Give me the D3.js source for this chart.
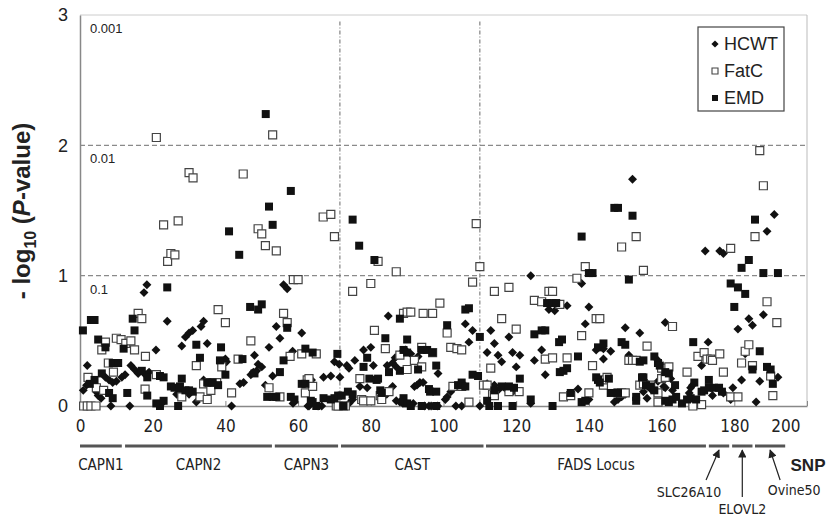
<!DOCTYPE html>
<html>
<head>
<meta charset="utf-8">
<script src="https://cdn.jsdelivr.net/npm/d3@7"></script>
<style>
  body { margin: 0; background: #fff; }
  svg { font-family: "Liberation Sans", Arial, sans-serif; }
  .narrow { font-family: "DejaVu Sans Condensed", "Liberation Sans Narrow", "Arial Narrow", sans-serif; font-stretch: condensed; }
</style>
</head>
<body>
<div id="chart"></div>
<script>
// DATA
// each point is [SNP index, -log10(P)]
var hcwt = [
  [0.9,0.12],[1.8,0.16],[2,0.31],[4.5,0.11],[5,0.08],[5.8,0.06],[7,0.22],[8,0.20],[8.5,0],[9,0.18],
  [10,0.19],[11.5,0.22],[12.4,0.24],[13.7,0],[14,0.31],[15,0.28],[16,0.25],[17.6,0.87],[18.4,0.93],[18,0.24],
  [19,0.26],[20.9,0.43],[22.5,0.02],[24,0.65],[26.6,0.09],[27.8,0.12],[28,0.46],[28.5,0.09],[29,0.53],[30,0.56],
  [30,0.09],[31,0.58],[32,0.03],[33.3,0.61],[34,0.65],[34,0.20],[35,0.48],[35.5,0.18],[37,0.16],[40,0.36],
  [40.3,0.34],[41.7,0],[44,0.17],[45,0.18],[47,0.24],[47.7,0.26],[48.6,0.27],[48,0.39],[49,0.32],[50,0.30],
  [51,0.16],[52,0.45],[53,0.23],[54,0.61],[55,0.52],[56,0.93],[57,0.90],[58.5,0.42],[58.6,0.02],[61,0.56],
  [62.7,0],[63,0],[63.7,0.20],[65.5,0],[66.5,0],[67,0.22],[69,0.23],[70,0.34],[71.3,0.32],[71.5,0.22],
  [73.4,0.31],[74,0.29],[74,0.02],[75,0.05],[75.6,0.35],[77,0.15],[78,0.43],[79,0.14],[80,0.45],[80.7,0.31],
  [83,0.11],[84.4,0.09],[84.5,0.31],[84.8,0.69],[86,0.33],[86,0.15],[86.7,0.37],[87,0.30],[87,0.04],[88,0.03],
  [88.5,0.41],[88.8,0.02],[89.5,0.43],[91,0.40],[91.7,0.02],[92,0.15],[92.7,0.16],[93,0.38],[93.5,0.18],[94.4,0.18],
  [94.8,0],[96,0],[96.6,0],[98.4,0],[98.5,0.25],[100.5,0.05],[101,0.07],[102,0.11],[103,0.15],[103.4,0],
  [105,0],[106,0.63],[107,0.49],[108,0.58],[110,0],[112,0.41],[112,0.17],[113,0.58],[114,0.48],[114,0.16],
  [115,0.39],[115,0.12],[116,0.34],[117.5,0.12],[118,0.53],[119,0.41],[119,0.11],[120,0.30],[121,0.39],[124,1.00],
  [124,0.02],[125,0.35],[127,0.43],[128,0.24],[129,0.74],[130.6,0.73],[134,0.77],[137,0.13],[138,0.94],[139,0.63],
  [140,0.76],[140,0.05],[142,0.43],[144,0.44],[144,0.36],[146,0.42],[147,0.03],[148,0.05],[149,0.07],[150,0.60],
  [150,0.09],[151,0.39],[152,1.74],[154,0.56],[155,0.11],[155.7,0.18],[156,0.06],[157,0.13],[159,0.19],[159,0.35],
  [160.6,0.15],[161,0.64],[161,0.14],[162.5,0.21],[163,0.12],[167.6,0.10],[168,0.14],[168.5,0.16],[171,0.31],[172,1.19],
  [172.8,0.49],[174,0.08],[176,1.19],[177,1.17],[177,0.10],[179,0.05],[179.6,0.14],[181,0.59],[182,0.20],[183,0.40],
  [184,0.67],[185,0.62],[186,0.03],[187,0.19],[188,0.70],[189,1.34],[191,1.47],[192,0.22]
];
var fatc = [
  [1,0],[2,0],[3,0],[4.4,0],[2.2,0.22],[4.5,0.14],[6,0.43],[6.5,0.12],[7,0.49],[7.8,0.33],
  [9.2,0.26],[10,0.52],[11.3,0.51],[12.6,0.48],[14,0.50],[15,0.43],[16,0.71],[17,0.67],[18,0.38],[17.9,0.13],
  [21,2.06],[21,0.24],[23,1.39],[24.1,1.11],[25,1.17],[26.1,1.16],[27,1.42],[28,0.07],[30,1.79],[31.1,1.75],
  [32,0.31],[33,0.07],[34,0.17],[35,0.05],[35.5,0.18],[36.6,0.18],[37.6,0.18],[36,0.12],[38,0.74],[39,0.30],
  [40,0.64],[41.7,0.10],[43.5,0.36],[44.9,1.78],[47,0.50],[49,1.36],[50,1.32],[51,1.23],[52,0.14],[53,2.08],
  [54,1.19],[55,0.07],[56,0.71],[57,0.64],[57.8,0.38],[58.7,0.97],[60,0.97],[61,0.40],[62,0.10],[62.5,0.20],
  [63,0.21],[64,0.15],[65,0.40],[66.9,1.45],[69,1.47],[70,1.30],[70.5,0],[71,0],[72.5,0],[73,0],
  [75,0.88],[77,0.21],[77.5,0.05],[78,0.04],[80,0.94],[80,0.04],[81,0.58],[82,1.11],[82.6,0.08],[83,0.05],
  [84,0.44],[85,0.11],[87,1.03],[88,0.39],[89,0.71],[90,0.72],[90,0.28],[91,0.72],[92,0.35],[94,0.30],
  [94.4,0.71],[94,0.45],[97,0.71],[97,0.41],[99,0.79],[101,0.56],[102,0.45],[102.6,0.15],[103.7,0.44],[105,0.43],
  [105,0.15],[107,0.03],[108,0.95],[109,1.40],[110,1.07],[111,0.16],[112,0.16],[113,0.29],[113.5,0.09],[114,0.88],
  [114,0.08],[116,0.67],[118,0.91],[118,0.11],[120,0.59],[120.8,0.11],[125,0.81],[127,0.80],[128,0.36],[129,0.88],
  [130,0.88],[130,0.37],[132,0.78],[133,0.07],[134,0.37],[135,0.08],[136.7,0.98],[138,0.54],[139,1.07],[140,0.10],
  [141,0.31],[142,0.67],[143,0.67],[144,0.16],[144,0.20],[145,0.22],[148,0.10],[149,1.22],[149,0.10],[150,0.10],
  [151,0.35],[152,0.35],[153,1.30],[153,0.35],[154,0.16],[155,1.04],[155,0.17],[156,0.46],[157,0.16],[159,0.03],
  [159,0.10],[160,0.21],[160,0.29],[161,0.22],[162,0.30],[163,0.61],[167,0.26],[168.6,0],[170,0.38],[171,0.01],
  [171.7,0.41],[172.5,0.36],[173.5,0.36],[174,0.35],[176,0.40],[177,0.26],[179,1.21],[179,0.07],[181,0.07],[182,0.33],
  [183,0.42],[184,0.47],[185,0.31],[185.7,1.30],[187,1.96],[188,1.69],[189,0.80],[190,0.23],[190.6,0.08],[191.7,0.64]
];
var emd = [
  [0.8,0.58],[2.7,0.17],[3,0.66],[4,0.66],[4,0.20],[5,0.51],[6,0.25],[7,0.45],[8,0.10],[9,0.33],
  [9,0.06],[10.5,0.33],[12,0.44],[13,0.10],[14.5,0.67],[15,0.58],[17,0.27],[18.5,0.22],[18.5,0.08],[21,0.02],
  [22,0],[23,0.04],[22,0.23],[23,0.22],[24,0.91],[25,0.15],[26,0.14],[27,0],[27.5,0.15],[28,0.21],
  [29,0.12],[30,0.12],[31,0.11],[32,0.47],[33,0.37],[35,0.18],[36.5,0.18],[38,0.16],[38.5,0.35],[38.8,0.45],
  [40,0.24],[41,1.34],[43.8,1.16],[44.7,0.36],[46.8,0.76],[48,0.25],[49,0.74],[50,0.78],[51.1,2.24],[51.5,0.07],
  [52,1.53],[53,1.39],[53,0.07],[54,0.07],[55,0.26],[56,0.35],[57,0.60],[58,1.65],[58,0.07],[59,0.05],
  [61,0.17],[62,0.44],[62,0.17],[63.5,0.04],[64,0.41],[64,0.03],[65,0],[67,0.06],[69,0.05],[70,0.06],
  [70.8,0.40],[71,0.08],[72,0.08],[72.5,0],[73.7,0.11],[75,1.43],[75,0.09],[76.8,1.23],[78,0.30],[79,0.37],
  [79.6,0.21],[81,1.12],[81.6,0.20],[82,0.21],[82.6,0.12],[83,0.10],[84,0.52],[85,0.26],[88,0.67],[88,0.27],
  [89,0.43],[89,0.06],[90,0.51],[90,0.41],[90,0.02],[91,0],[93,0.28],[94,0],[94,0.43],[95.5,0.43],
  [96,0.13],[96.3,0.11],[97,0.41],[98,0.31],[98,0.11],[98,0],[101,0.62],[104,0.16],[105,0.18],[106,0.74],
  [106,0.15],[107,0.75],[108,0.24],[109.5,0.23],[110,0.53],[112,0.04],[112.6,0],[114,0.12],[115,0],[116,0.15],
  [118,0.15],[119,0],[119.4,0.14],[121,0.21],[124,0.05],[125,0.55],[127,0.58],[128,0.58],[128.5,0.79],[130,0.79],
  [131,0.79],[130,0],[131.8,0.49],[132.6,0.51],[132,0.26],[133,0.27],[134,0.29],[135,0.10],[137,0.38],[138,1.30],
  [138,0.03],[139,0.04],[140,1.02],[141,1.02],[142.5,0.45],[142,0.22],[142.5,0.20],[143,0.18],[144,0.48],[145.5,0.21],
  [146,0.10],[147,1.52],[148,1.52],[148,0.10],[149,0.49],[150,0.47],[151,0.97],[152,1.46],[153,0.07],[153,0.04],
  [154,0.34],[154.6,0.22],[155,0.22],[155,0.35],[155.7,0.16],[157,0.15],[158,0.38],[158,0.12],[159,0.33],[159.5,0.31],
  [161,0.26],[161,0.04],[162,0.25],[162,0.03],[163,0.05],[163.7,0.16],[164,0.07],[165.6,0.02],[167,0.05],[168,0.06],
  [168.7,0.49],[169,0.18],[169.5,0.05],[171,0.11],[171.7,0.12],[173,0.14],[173,0.20],[174.4,0.14],[175.8,0.14],[176.6,0.11],
  [179,0.94],[180,0.76],[181,0.91],[182,1.06],[183,0.86],[184,1.12],[185,0.28],[185.7,1.43],[187,0.42],[188,1.02],
  [189,0.30],[190,0.28],[190.6,0.17],[192,1.02]
];

var xTicks = [0, 20, 40, 60, 80, 100, 120, 140, 160, 180, 200];
var yTicks = [0, 1, 2, 3];
// P-value thresholds shown at the -log10 levels
var thresholds = [[1, "0.1"], [2, "0.01"], [3, "0.001"]];
// region boundaries (SNP index)
var regionLines = [71.5, 110];
// genes: name, first SNP, last SNP
var genes = [
  ["CAPN1", 0, 11.5], ["CAPN2", 12.4, 52.8], ["CAPN3", 53.6, 71], ["CAST", 71.8, 111],
  ["FADS Locus", 111.7, 172.2], ["SLC26A10", 173, 178.6], ["ELOVL2", 179.4, 185], ["Ovine50", 185.7, 194]
];
var series = ["HCWT", "FatC", "EMD"];

// SETUP
var w = 834, h = 520;
var x = d3.scaleLinear().domain([0, 200]).range([80, 807]);
var y = d3.scaleLinear().domain([0, 3]).range([406, 15]);

var svg = d3.select("#chart").append("svg")
  .attr("width", w).attr("height", h);

// frame
svg.append("line").attr("x1", x(0)).attr("x2", x(200)).attr("y1", y(3)).attr("y2", y(3))
  .attr("stroke", "#ccc").attr("stroke-width", 1);
svg.append("line").attr("x1", x(200)).attr("x2", x(200)).attr("y1", y(3)).attr("y2", y(0))
  .attr("stroke", "#bbb").attr("stroke-width", 1);

// reference lines
svg.selectAll(".hline").data([1, 2]).enter().append("line")
  .attr("x1", x(0)).attr("x2", x(200))
  .attr("y1", function (d) { return y(d); }).attr("y2", function (d) { return y(d); })
  .attr("stroke", "#8a8a8a").attr("stroke-width", 1.1).attr("stroke-dasharray", "5,3");
svg.selectAll(".vline").data(regionLines).enter().append("line")
  .attr("x1", function (d) { return x(d); }).attr("x2", function (d) { return x(d); })
  .attr("y1", y(2.95)).attr("y2", y(0))
  .attr("stroke", "#777").attr("stroke-width", 1.1).attr("stroke-dasharray", "4,2,1,2");

svg.selectAll(".thr").data(thresholds).enter().append("text")
  .attr("x", 90).attr("y", function (d) { return y(d[0]) + 18; })
  .attr("font-size", 13).attr("fill", "#222")
  .text(function (d) { return d[1]; });

// axes
var yAxis = svg.append("g").attr("transform", "translate(" + x(0) + ",0)")
  .call(d3.axisLeft(y).tickValues(yTicks).tickSize(0).tickPadding(12).tickFormat(d3.format("d")));
yAxis.select(".domain").attr("stroke", "#888").attr("stroke-width", 1.5);
yAxis.selectAll("text").attr("font-size", 18).attr("fill", "#222")
  .attr("font-family", "Liberation Sans, Arial, sans-serif");

var xAxis = svg.append("g").attr("transform", "translate(0," + y(0) + ")")
  .call(d3.axisBottom(x).tickValues(xTicks).tickSizeInner(-5).tickSizeOuter(0).tickPadding(14));
xAxis.select(".domain").attr("stroke", "#888").attr("stroke-width", 1.5);
xAxis.selectAll("line").attr("stroke", "#888");
xAxis.selectAll("text").attr("class", "narrow").attr("font-size", 17).attr("fill", "#222")
  .attr("font-family", null);
xAxis.selectAll(".tick").filter(function (d) { return d === 200; }).select("text")
  .attr("text-anchor", "end").attr("dx", -7);

// y axis title
var yt = svg.append("text")
  .attr("transform", "translate(30,211) rotate(-90)")
  .attr("text-anchor", "middle").attr("font-weight", "bold").attr("font-size", 24).attr("fill", "#222");
yt.append("tspan").text("- log");
yt.append("tspan").attr("font-size", 16).attr("dy", 6).text("10");
yt.append("tspan").attr("dy", -6).text(" (");
yt.append("tspan").attr("font-style", "italic").text("P");
yt.append("tspan").text("-value)");

// MARKERS
var diamond = d3.symbol().type(d3.symbolSquare).size(40);
var square = d3.symbol().type(d3.symbolSquare).size(64);

function drawHcwt(sel) {
  sel.append("path").attr("d", diamond)
    .attr("transform", function (d) { return "translate(" + x(d[0]) + "," + y(d[1]) + ") rotate(45)"; })
    .attr("fill", "#111");
}
function drawFatc(sel) {
  sel.append("path").attr("d", square)
    .attr("transform", function (d) { return "translate(" + x(d[0]) + "," + y(d[1]) + ")"; })
    .attr("fill", "#fff").attr("stroke", "#444").attr("stroke-width", 1.2);
}
function drawEmd(sel) {
  sel.append("path").attr("d", square)
    .attr("transform", function (d) { return "translate(" + x(d[0]) + "," + y(d[1]) + ")"; })
    .attr("fill", "#111");
}

svg.append("g").selectAll("g").data(hcwt).enter().append("g").call(drawHcwt);
svg.append("g").selectAll("g").data(fatc).enter().append("g").call(drawFatc);
svg.append("g").selectAll("g").data(emd).enter().append("g").call(drawEmd);

// LEGEND
var legend = svg.append("g").attr("transform", "translate(698,27)");
legend.append("rect").attr("width", 86).attr("height", 84)
  .attr("fill", "#fff").attr("stroke", "#444").attr("stroke-width", 1.2);
var items = legend.selectAll(".item").data(series).enter().append("g")
  .attr("transform", function (d, i) { return "translate(0," + (17 + i * 27) + ")"; });
items.each(function (d, i) {
  var g = d3.select(this);
  var mk = g.append("g").attr("transform", "translate(17,0)");
  if (i === 0) {
    mk.append("path").attr("d", d3.symbol().type(d3.symbolSquare).size(26)).attr("transform", "rotate(45)").attr("fill", "#111");
  } else if (i === 1) {
    mk.append("path").attr("d", d3.symbol().type(d3.symbolSquare).size(36)).attr("fill", "#fff").attr("stroke", "#444").attr("stroke-width", 1.1);
  } else {
    mk.append("path").attr("d", d3.symbol().type(d3.symbolSquare).size(36)).attr("fill", "#111");
  }
  g.append("text").attr("x", 26).attr("y", 6).attr("font-size", 18).attr("fill", "#222").text(d);
});

// GENE BARS
var geneY = 446;
svg.selectAll(".gbar").data(genes).enter().append("line")
  .attr("x1", function (d) { return x(d[1]); }).attr("x2", function (d) { return x(d[2]); })
  .attr("y1", geneY).attr("y2", geneY)
  .attr("stroke", "#555").attr("stroke-width", 3);

var mainGenes = genes.slice(0, 5);
svg.selectAll(".gname").data(mainGenes).enter().append("text")
  .attr("class", "narrow")
  .attr("x", function (d) { return x((d[1] + d[2]) / 2); }).attr("y", 470)
  .attr("text-anchor", "middle").attr("font-size", 15).attr("fill", "#222")
  .text(function (d) { return d[0]; });

// small genes labelled with arrows: [label dx, label y, arrow start dx, arrow start y]
var arrowed = [[-30, 497, -13, 480], [0, 514, 0, 497], [24, 495, 10, 480]];
var defs = svg.append("defs");
defs.append("marker").attr("id", "arr").attr("viewBox", "0 0 10 10")
  .attr("refX", 9).attr("refY", 5).attr("markerWidth", 7).attr("markerHeight", 7)
  .attr("orient", "auto")
  .append("path").attr("d", "M0,0 L10,5 L0,10 Z").attr("fill", "#222");

genes.slice(5).forEach(function (d, i) {
  var cx = x((d[1] + d[2]) / 2);
  var a = arrowed[i];
  svg.append("line")
    .attr("x1", cx + a[2]).attr("y1", a[3]).attr("x2", cx).attr("y2", geneY + 4)
    .attr("stroke", "#222").attr("stroke-width", 1.2).attr("marker-end", "url(#arr)");
  svg.append("text").attr("class", "narrow")
    .attr("x", cx + a[0]).attr("y", a[1]).attr("text-anchor", "middle")
    .attr("font-size", 14).attr("fill", "#222").text(d[0]);
});

svg.append("text").attr("x", 808).attr("y", 471).attr("text-anchor", "middle")
  .attr("font-weight", "bold").attr("font-size", 17).attr("fill", "#222").text("SNP");
</script>
</body>
</html>
